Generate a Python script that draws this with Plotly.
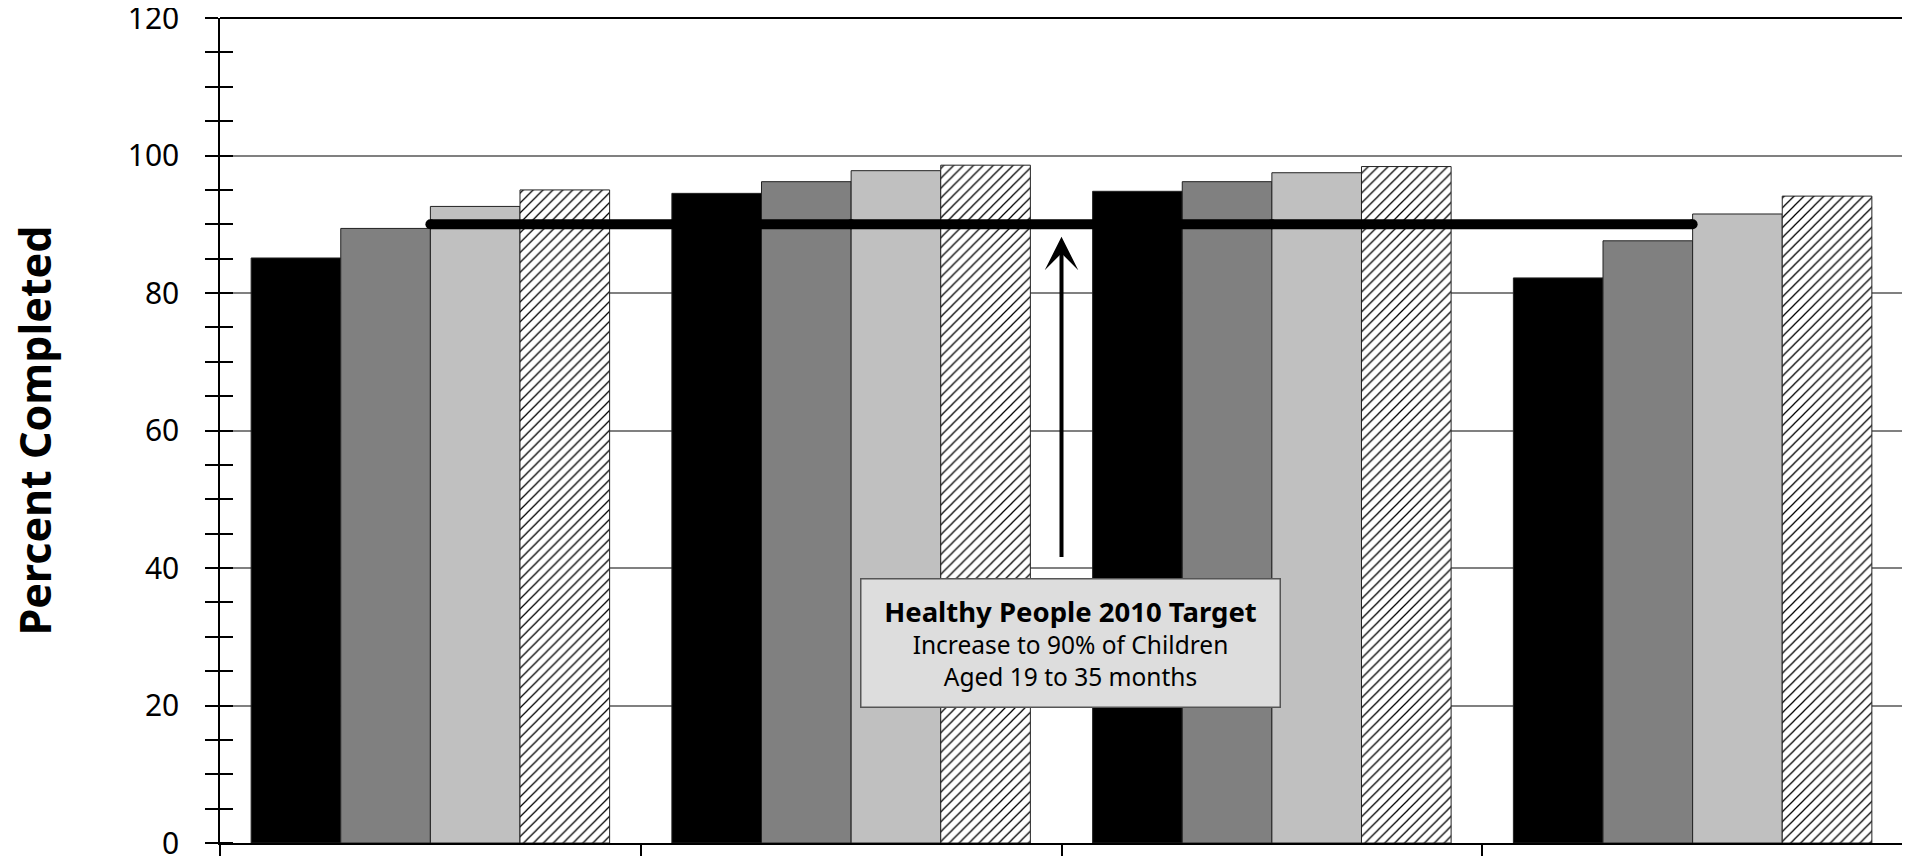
import plotly.graph_objects as go

# ---- data ----
categories = ["Group 1", "Group 2", "Group 3", "Group 4"]
series_names = ["Series 1", "Series 2", "Series 3", "Series 4"]
series_1 = [85.1, 94.5, 94.8, 82.2]
series_2 = [89.4, 96.2, 96.2, 87.6]
series_3 = [92.6, 97.8, 97.5, 91.5]
series_4 = [95.0, 98.6, 98.4, 94.1]
target_values = [90, 90, 90, 90]
y_ticks = [0, 20, 40, 60, 80, 100, 120]
y_title = "Percent Completed"

arrow_x = 1.5
arrow_tail_y = 41.4
arrow_head_y = 88.2
box_x = 1.522
box_y = 29.1
box_title = "Healthy People 2010 Target"
box_lines = ["Increase to 90% of Children", "Aged 19 to 35 months"]

FONT = "Noto Sans"

fig = go.Figure()

fills = ["#000000", "#808080", "#c0c0c0", "#ffffff"]
for name, vals, col in zip(series_names, [series_1, series_2, series_3, series_4], fills):
    marker = dict(color=col, line=dict(color="#222222", width=1))
    if col == "#ffffff":
        marker["pattern"] = dict(shape="/", fgcolor="#000000", bgcolor="#ffffff",
                                 size=7, solidity=0.18, fillmode="replace")
    fig.add_trace(go.Bar(x=categories, y=vals, name=name, marker=marker,
                         hoverinfo="skip"))

fig.add_trace(go.Scatter(x=categories, y=target_values, mode="lines+markers",
                         line=dict(color="#000000", width=10),
                         marker=dict(color="#000000", size=10),
                         name="Target", hoverinfo="skip"))

# invisible helper trace for the inside-tick overlay axis
fig.add_trace(go.Scatter(x=categories, y=[None] * len(categories), yaxis="y2",
                         mode="lines", showlegend=False, hoverinfo="skip"))

fig.add_annotation(x=arrow_x, y=arrow_head_y, ax=arrow_x, ay=arrow_tail_y,
                   xref="x", yref="y", axref="x", ayref="y",
                   showarrow=True, arrowhead=3, arrowwidth=4, arrowsize=1.4,
                   arrowcolor="#000000", text="")

# callout box with text
callout_text = ("<span style='font-size:27.5px'><b>" + box_title + "</b></span><br>"
                + "<br>".join(box_lines))
fig.add_annotation(x=box_x, y=box_y, xref="x", yref="y", showarrow=False,
                   text=callout_text,
                   font=dict(family=FONT, size=24.5, color="#000000"),
                   align="center", bgcolor="#dddddd", bordercolor="#555555",
                   borderwidth=1.5, borderpad=0, width=418, height=127)

# y-axis title (placed as a rotated annotation for exact placement)
fig.add_annotation(x=0, y=0.5, xref="paper", yref="paper", xshift=-186,
                   xanchor="center", yanchor="middle",
                   showarrow=False, textangle=-90,
                   text="<b>" + y_title + "</b>",
                   font=dict(family=FONT, size=43, color="#000000"))

fig.update_layout(
    template="none",
    width=1902, height=848,
    margin=dict(l=212, r=7, t=10, b=13),
    paper_bgcolor="#ffffff", plot_bgcolor="#ffffff",
    barmode="group", bargap=0.148, bargroupgap=0,
    showlegend=False,
    font=dict(family=FONT, color="#000000"),
    xaxis=dict(
        type="category", showticklabels=False,
        ticks="outside", tickson="boundaries", ticklen=20,
        tickcolor="#000000", tickwidth=1.5,
        showline=True, linecolor="#000000", linewidth=2, mirror=False,
        showgrid=False, zeroline=False, automargin=False,
    ),
    yaxis=dict(
        range=[0, 120.01], tickvals=y_ticks, ticktext=[str(v) for v in y_ticks],
        ticks="", showline=True, linecolor="#000000", linewidth=1.5,
        showgrid=True, gridcolor="#808080", gridwidth=1.5, zeroline=False,
        tickfont=dict(family=FONT, size=30, color="#000000"),
        ticklabelstandoff=33, ticklabeloverflow="allow",
        minor=dict(dtick=5, tick0=0, ticks="outside", ticklen=13,
                   tickcolor="#000000", tickwidth=1.5, showgrid=False),
        automargin=False,
    ),
    yaxis2=dict(
        overlaying="y", side="left", range=[0, 120.01], tickvals=y_ticks,
        showticklabels=False, ticks="", showline=False, showgrid=False,
        zeroline=False, automargin=False,
        minor=dict(dtick=5, tick0=0, ticks="inside", ticklen=13,
                   tickcolor="#000000", tickwidth=1.5, showgrid=False),
    ),
)

# top border (black) and gray right border of the plot area
fig.add_shape(type="line", xref="paper", yref="paper", x0=0, x1=1, y0=1, y1=1,
              line=dict(color="#000000", width=2))
fig.add_shape(type="line", xref="paper", yref="paper", x0=1, x1=1, y0=0, y1=1,
              line=dict(color="#777777", width=1.5))

fig.write_html("out.html")
